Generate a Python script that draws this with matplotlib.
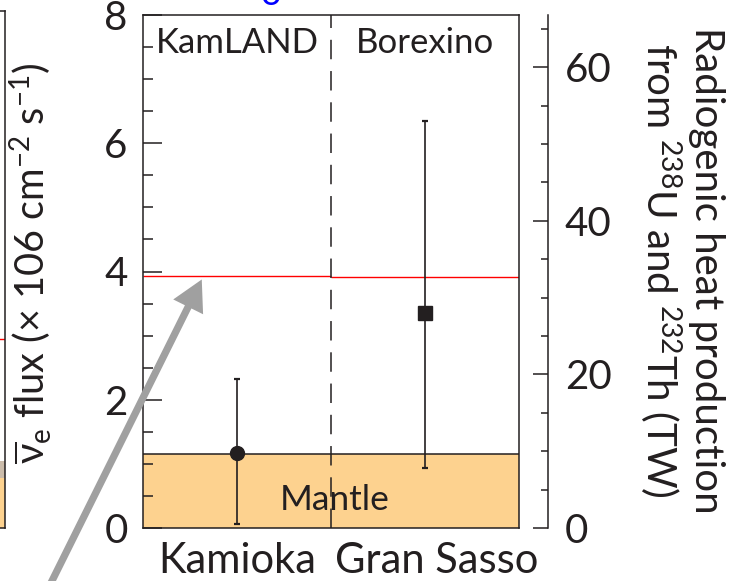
import matplotlib
matplotlib.use('Agg')
import matplotlib.pyplot as plt
import numpy as np
from matplotlib.patches import FancyArrowPatch
from matplotlib.ticker import MultipleLocator
from matplotlib.transforms import ScaledTranslation

plt.rcParams['font.family'] = ['Lato', 'DejaVu Sans']
plt.rcParams['mathtext.fontset'] = 'custom'
plt.rcParams['mathtext.rm'] = 'Lato'
plt.rcParams['mathtext.it'] = 'Lato:italic'
plt.rcParams['lines.scale_dashes'] = False

#data
sites = ['Kamioka', 'Gran Sasso']
detectors = ['KamLAND', 'Borexino']
flux = np.array([1.17, 3.36])
flux_lo = np.array([0.06, 0.93])
flux_hi = np.array([2.32, 6.34])
mantle = [1.16, 1.15]
model_total = [3.93, 3.91]
tw_per_flux = 8.35

#what shows of the neighbouring panel at the left edge
prev_mantle = 0.78
prev_crust = 1.05
prev_model = 2.95

ink = '#231f20'
orange = '#fdd28f'

W, H = 746, 581
fig = plt.figure(figsize=(W / 100, H / 100), dpi=100)

ax0 = fig.add_axes([-100 / W, 53 / H, 105 / W, 517 / H])
ax0.set_xlim(0, 1)
ax0.set_ylim(0, 8.07)
ax0.axhspan(0, prev_mantle, color=orange, lw=0)
ax0.axhspan(prev_mantle, prev_crust, color='#cbbcab', lw=0)
ax0.axhline(prev_model, color='red', lw=1)
ax0.set_xticks([])
ax0.set_yticks([])
for s in ax0.spines.values():
    s.set_color(ink)
    s.set_linewidth(1.1)

ax = fig.add_axes([143 / W, 53 / H, 376 / W, 513 / H])
x = np.arange(len(sites)) + 0.5

ax.bar([0, 1], mantle, width=1, align='edge', color=orange, lw=0, zorder=1)
ax.hlines(mantle, [0, 1], [1, 2], color=ink, lw=1.1, zorder=2)
ax.hlines(model_total, [0, 1], [1, 2], color='red', lw=1.0, zorder=2)
ax.axvline(1, color=ink, lw=1.1, dashes=(14, 8.5), zorder=2)

markers = ['o', 's']
sizes = [10, 10]
for i in range(len(sites)):
    ax.errorbar(x[i], flux[i], yerr=[[flux[i] - flux_lo[i]], [flux_hi[i] - flux[i]]],
                fmt=markers[i], ms=sizes[i], color=ink, ecolor=ink, elinewidth=1.2,
                capsize=2.2, capthick=1.6, zorder=4)

for i in range(len(detectors)):
    ax.text(x[i], 7.56, detectors[i], ha='center', va='center', fontsize=25, color=ink)
ax.text(1.02, 0.44, 'Mantle', ha='center', va='center', fontsize=25.5, color=ink, zorder=3)

ax.set_xlim(0, 2)
ax.set_ylim(0, 8)
ax.set_xticks(x)
ax.set_xticklabels(sites, fontsize=30, color=ink)
ax.tick_params(axis='x', length=0, pad=10)
#second site label sits a bit right of its column in the original
lab = ax.get_xticklabels()[1]
lab.set_transform(lab.get_transform() + ScaledTranslation(0.12, 0, fig.dpi_scale_trans))
ax.yaxis.set_major_locator(MultipleLocator(2))
ax.yaxis.set_minor_locator(MultipleLocator(0.5))
ax.tick_params(axis='y', which='major', direction='in', length=13.5, width=1.1,
               color=ink, labelsize=29, labelcolor=ink, pad=11)
ax.tick_params(axis='y', which='minor', direction='in', length=7, width=1.1, color=ink)
for s in ax.spines.values():
    s.set_color(ink)
    s.set_linewidth(1.1)

ax.set_ylabel(r'$\overline{\mathrm{\nu}}_{\mathrm{e}}$ flux (× 106 cm$^{-2}$ s$^{-1}$)',
              fontsize=28.5, color=ink, va='center')
ax.yaxis.set_label_coords(-0.3, 0.516)

ax2 = ax.twinx()
ax2.set_ylim(0, 8 * tw_per_flux)
for k in ['left', 'top', 'bottom']:
    ax2.spines[k].set_visible(False)
ax2.spines['right'].set_position(('outward', 21))
ax2.spines['right'].set_color(ink)
ax2.spines['right'].set_linewidth(1.1)
ax2.yaxis.set_major_locator(MultipleLocator(20))
ax2.yaxis.set_minor_locator(MultipleLocator(5))
ax2.tick_params(axis='y', which='major', direction='in', length=10.5, width=1.1,
                color=ink, labelsize=29, labelcolor=ink, pad=12)
ax2.tick_params(axis='y', which='minor', direction='in', length=5, width=1.1, color=ink)
ax2.set_ylabel('Radiogenic heat production\nfrom $^{238}$U and $^{232}$Th (TW)',
               fontsize=29, color=ink, rotation=270,
               va='center', ha='center', multialignment='center', linespacing=1.12)
ax2.yaxis.set_label_coords(1.43, 0.503)

#blue heading cut off at the top of the crop
fig.text(271 / W, (H - 5) / H, 'o', color='blue', fontsize=26, ha='center', va='baseline')

arrow = FancyArrowPatch((42 / W, -20 / H), (203 / W, (H - 277) / H), transform=fig.transFigure,
                        arrowstyle='simple,head_width=1.2,head_length=1.1,tail_width=0.26',
                        mutation_scale=20, color='#a0a0a0', lw=0, zorder=10)
fig.add_artist(arrow)

fig.savefig('out.png', dpi=100)
